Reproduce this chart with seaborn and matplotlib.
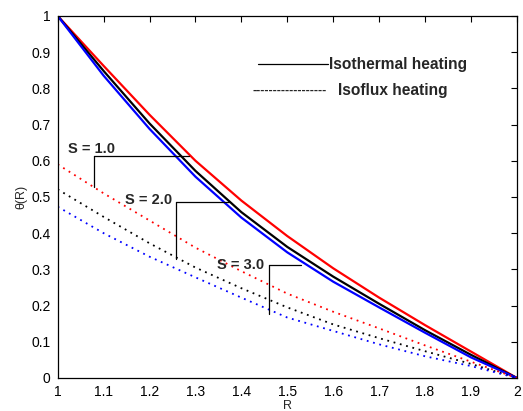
import matplotlib
matplotlib.use("Agg")
import matplotlib.pyplot as plt
import seaborn as sns

# ---- data ----
R = [1.0, 1.1, 1.2, 1.3, 1.4, 1.5, 1.6, 1.7, 1.8, 1.9, 2.0]

# Isothermal heating (solid)
theta_T_S1 = [1.0, 0.862, 0.727, 0.600, 0.490, 0.392, 0.303, 0.222, 0.146, 0.073, 0.0]
theta_T_S2 = [1.0, 0.848, 0.703, 0.572, 0.458, 0.362, 0.280, 0.205, 0.132, 0.064, 0.0]
theta_T_S3 = [1.0, 0.835, 0.688, 0.556, 0.443, 0.347, 0.266, 0.195, 0.125, 0.057, 0.0]

# Isoflux heating (dotted)
theta_F_S1 = [0.590, 0.510, 0.435, 0.360, 0.295, 0.233, 0.183, 0.137, 0.090, 0.045, 0.0]
theta_F_S2 = [0.521, 0.445, 0.372, 0.305, 0.248, 0.195, 0.148, 0.110, 0.074, 0.039, 0.0]
theta_F_S3 = [0.473, 0.400, 0.335, 0.278, 0.222, 0.167, 0.130, 0.093, 0.060, 0.033, 0.0]

x_ticks = [1, 1.1, 1.2, 1.3, 1.4, 1.5, 1.6, 1.7, 1.8, 1.9, 2]
x_tick_labels = ["1", "1.1", "1.2", "1.3", "1.4", "1.5", "1.6", "1.7", "1.8", "1.9", "2"]
y_ticks = [0, 0.1, 0.2, 0.3, 0.4, 0.5, 0.6, 0.7, 0.8, 0.9, 1]
y_tick_labels = ["0", "0.1", "0.2", "0.3", "0.4", "0.5", "0.6", "0.7", "0.8", "0.9", "1"]

s_labels = ["S = 1.0", "S = 2.0", "S = 3.0"]
legend_labels = ["Isothermal heating", "Isoflux heating"]

# ---- plotting ----
sns.set_style("white")
plt.rcParams["font.family"] = ["Liberation Sans", "DejaVu Sans"]

fig = plt.figure(figsize=(5.23, 4.11), dpi=100)
ax = fig.add_axes([0.1103, 0.0803, 0.878, 0.881])

colors = ["red", "black", "blue"]
solid = [theta_T_S1, theta_T_S2, theta_T_S3]
dotted = [theta_F_S1, theta_F_S2, theta_F_S3]

for c, ys in zip(colors, solid):
    sns.lineplot(x=R, y=ys, color=c, lw=1.6, ax=ax, legend=False)
for c, ys in zip(colors, dotted):
    sns.lineplot(x=R, y=ys, color=c, lw=1.3, linestyle=(0, (1, 2.6)), ax=ax, legend=False)

ax.set_xlim(1, 2)
ax.set_ylim(0, 1)
ax.set_xticks(x_ticks)
ax.set_xticklabels(x_tick_labels)
ax.set_yticks(y_ticks)
ax.set_yticklabels(y_tick_labels)
ax.tick_params(direction="in", length=4, width=0.8, top=True, right=True,
               labelsize=10, colors="black", pad=5)
for sp in ax.spines.values():
    sp.set_visible(True)
    sp.set_color("black")
    sp.set_linewidth(0.9)

ax.set_xlabel("R", fontsize=9, labelpad=1)
ax.set_ylabel("θ(R)", fontsize=9, labelpad=3)

# S annotations (bracket lines)
lk = dict(color="black", lw=0.9)
ax.plot([1.078, 1.285], [0.613, 0.613], **lk)
ax.plot([1.078, 1.078], [0.613, 0.528], **lk)
ax.text(1.022, 0.622, s_labels[0], fontsize=10.5, fontweight="bold", ha="left", va="baseline")

ax.plot([1.258, 1.372], [0.487, 0.487], **lk)
ax.plot([1.258, 1.258], [0.487, 0.330], **lk)
ax.text(1.147, 0.492, s_labels[1], fontsize=10.5, fontweight="bold", ha="left", va="center")

ax.plot([1.461, 1.529], [0.312, 0.312], **lk)
ax.plot([1.461, 1.461], [0.312, 0.176], **lk)
ax.text(1.348, 0.312, s_labels[2], fontsize=10.5, fontweight="bold", ha="left", va="center")

# legend-like text
ax.plot([0.4363, 0.5895], [0.866, 0.866], transform=ax.transAxes, color="black", lw=0.9)
ax.text(0.5915, 0.866, legend_labels[0], transform=ax.transAxes, fontsize=11.2,
        fontweight="bold", ha="left", va="center")
ax.text(0.5865, 0.793, "-" * 18, transform=ax.transAxes,
        fontsize=9, fontweight="bold", ha="right", va="center")
ax.text(0.6100, 0.793, legend_labels[1], transform=ax.transAxes,
        fontsize=11.2, fontweight="bold", ha="left", va="center")

fig.savefig("out.png", dpi=100)
